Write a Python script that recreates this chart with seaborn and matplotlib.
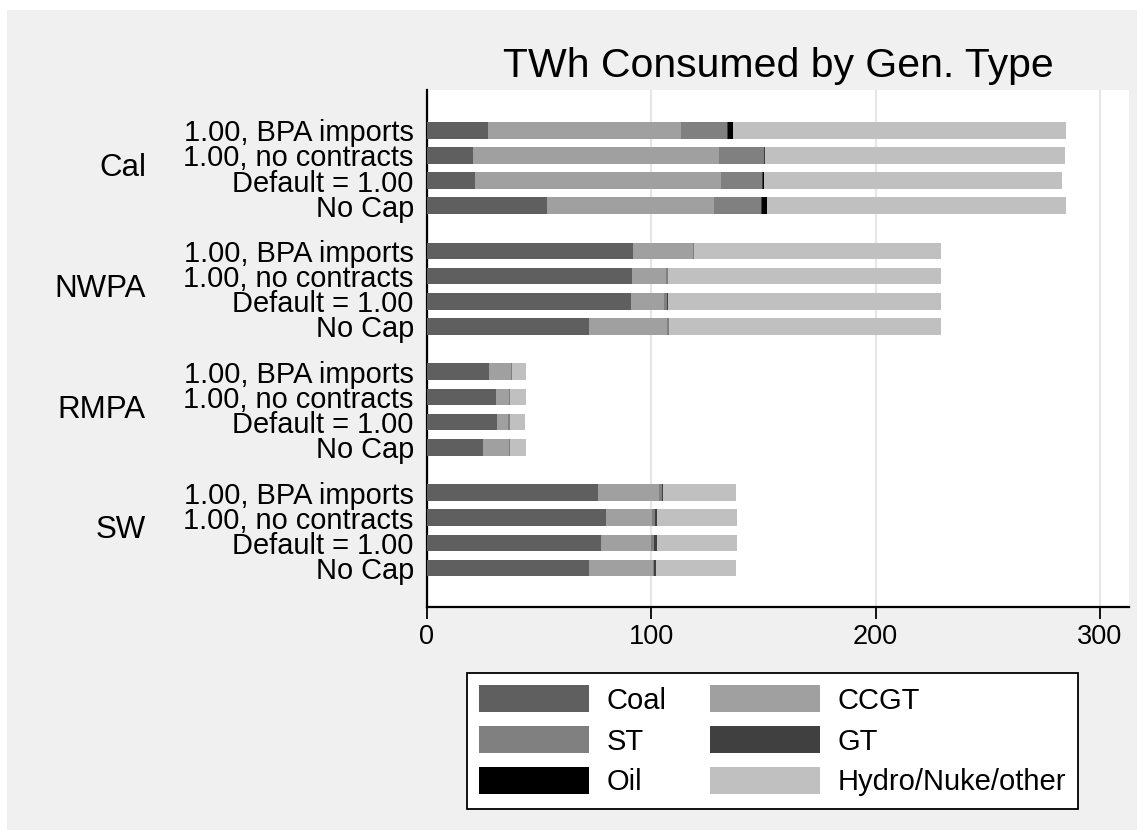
import numpy as np
import pandas as pd
import matplotlib
matplotlib.use("Agg")
import matplotlib.pyplot as plt
from matplotlib.patches import Patch, Rectangle
import matplotlib.transforms as mtransforms
import seaborn as sns

# ---------------- data ----------------
regions = ["Cal", "NWPA", "RMPA", "SW"]
scenarios = ["1.00, BPA imports", "1.00, no contracts", "Default = 1.00", "No Cap"]
series = ["Coal", "CCGT", "ST", "GT", "Oil", "Hydro/Nuke/other"]

coal  = [27.0, 20.5, 21.5, 53.4,  91.7, 91.5, 90.8, 72.4,  27.8, 30.8, 31.4, 25.0,  76.1, 79.8, 77.6, 72.2]
ccgt  = [86.2, 109.7, 109.6, 74.6, 26.7, 14.9, 15.0, 34.5,  9.5, 5.8, 4.9, 11.6,  27.3, 20.4, 22.1, 28.7]
st    = [20.7, 20.0, 18.4, 20.8,  0.6, 0.9, 1.2, 1.0,  0.5, 0.4, 0.9, 0.4,  1.4, 1.6, 1.5, 0.4]
gt    = [0.2, 0.3, 0.3, 0.4,  0.0, 0.3, 0.3, 0.0,  0.0, 0.0, 0.0, 0.0,  0.4, 0.6, 1.2, 0.8]
oil   = [2.2, 0.3, 0.3, 2.2,  0.0, 0.0, 0.0, 0.0,  0.0, 0.0, 0.0, 0.0,  0.0, 0.0, 0.0, 0.0]
hydro = [148.6, 133.5, 133.1, 133.5,  110.2, 121.7, 122.0, 121.4,  6.3, 7.1, 6.7, 7.1,  32.6, 35.8, 35.8, 35.7]

colors = ["#5f5f5f", "#a0a0a0", "#808080", "#404040", "#000000", "#c0c0c0"]
xticks = [0, 100, 200, 300]

# ---------------- layout ----------------
W, H = 1145, 840
sns.set_style("white")
plt.rcParams["font.family"] = ["Liberation Sans", "DejaVu Sans"]
plt.rcParams["text.color"] = "black"
plt.rcParams["xtick.color"] = "black"
plt.rcParams["ytick.color"] = "black"
plt.rcParams["axes.labelcolor"] = "black"

fig = plt.figure(figsize=(W / 100, H / 100), dpi=100)
fig.patch.set_facecolor("white")
fig.patches.append(Rectangle((7 / W, 1 - 830 / H), 1130 / W, 820 / H,
                             transform=fig.transFigure, facecolor="#f0f0f0",
                             edgecolor="none", zorder=-10))

ax = fig.add_axes([427 / W, 1 - 607 / H, 702 / W, 517 / H])
ax.set_facecolor("white")

group_gap = 4.8
ypos = []
for g in range(len(regions)):
    for j in range(len(scenarios)):
        ypos.append(g * group_gap + j)

vals = np.array([coal, ccgt, st, gt, oil, hydro])
cum = np.cumsum(vals, axis=0)

for k in range(len(series) - 1, -1, -1):
    df = pd.DataFrame({"x": cum[k], "y": ypos})
    sns.barplot(data=df, x="x", y="y", orient="y", native_scale=True,
                color=colors[k], saturation=1, width=0.66, errorbar=None,
                linewidth=0, ax=ax, zorder=3)

ax.set_xlim(0, 313)
ax.set_ylim(ypos[-1] + 1.55, -1.6)
ax.set_xlabel("")
ax.set_ylabel("")

ax.set_xticks(xticks)
ax.set_xticklabels([str(t) for t in xticks], fontsize=19.5, color="black")
ax.tick_params(axis="x", length=8.5, width=1.3, color="black", pad=4, direction="out", bottom=True)
ax.xaxis.grid(True, color="#e6e6e6", linewidth=1.6, zorder=0)
ax.set_axisbelow(True)

ax.set_yticks(ypos)
ax.set_yticklabels(scenarios * len(regions), fontsize=20.9, color="black")
ax.tick_params(axis="y", length=0, pad=9.5)

for side in ["top", "right"]:
    ax.spines[side].set_visible(False)
for side in ["left", "bottom"]:
    ax.spines[side].set_color("black")
    ax.spines[side].set_linewidth(1.6)

trans = mtransforms.blended_transform_factory(ax.transAxes, ax.transData)
for g, r in enumerate(regions):
    yc = g * group_gap + 1.5
    ax.text((146 - 427) / 702, yc, r, transform=trans, ha="right", va="center",
            fontsize=22.5, color="black")

fig.text((505 + 1052) / 2 / W, 1 - 66 / H, "TWh Consumed by Gen. Type",
         ha="center", va="center", fontsize=29.5, color="black")

handles = [Patch(facecolor=c, edgecolor="none", label=s) for c, s in zip(colors, series)]
fs = 21
fpx = fs * 100 / 72
order = [0, 2, 4, 1, 3, 5]
leg = fig.legend([handles[i] for i in order], [series[i] for i in order],
                 ncol=2, loc="upper left",
                 bbox_to_anchor=(467 / W, 1 - 673 / H), bbox_transform=fig.transFigure,
                 fontsize=fs, frameon=True, fancybox=False, shadow=False,
                 handlelength=110 / fpx, handleheight=30 / fpx,
                 handletextpad=17 / fpx, columnspacing=44 / fpx,
                 labelspacing=0.4, borderpad=0.42, borderaxespad=0)
for t in leg.get_texts():
    t.set_color("black")
leg.get_frame().set_edgecolor("black")
leg.get_frame().set_linewidth(1.3)
leg.get_frame().set_facecolor("white")
leg.get_frame().set_alpha(1)

fig.savefig("out.png", dpi=100, facecolor=fig.get_facecolor())
